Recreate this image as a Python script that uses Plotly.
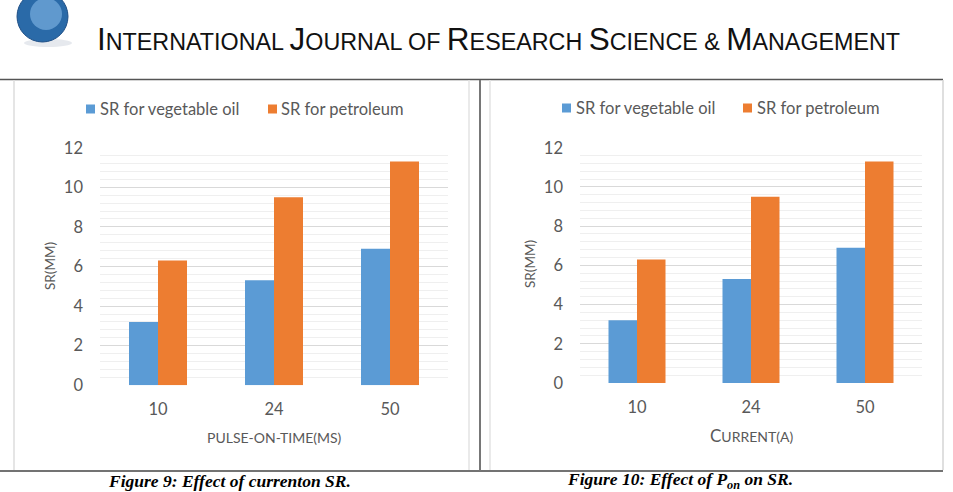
import plotly.graph_objects as go

# ---------------- data ----------------
categories = ["10", "24", "50"]
series_names = ["SR for vegetable oil", "SR for petroleum"]
sr_veg_fig9 = [3.2, 5.3, 6.9]
sr_pet_fig9 = [6.3, 9.5, 11.3]
sr_veg_fig10 = [3.2, 5.3, 6.9]
sr_pet_fig10 = [6.3, 9.5, 11.3]
y_ticks = [0, 2, 4, 6, 8, 10, 12]

W, H = 953, 492
def px(x):
    return x / W
def py(y):
    return 1 - y / H

BLUE = "#5B9BD5"
ORANGE = "#ED7D31"
TXT = "#595959"
GRID = "#d9d9d9"
MINOR = "#efefef"
FONT = "Lato, Open Sans, sans-serif"

fig = go.Figure()
for ax, veg, pet in [("", sr_veg_fig9, sr_pet_fig9), ("2", sr_veg_fig10, sr_pet_fig10)]:
    fig.add_trace(go.Bar(x=categories, y=veg, name=series_names[0], marker_color=BLUE,
                         marker_line_width=0, xaxis="x" + ax, yaxis="y" + ax, showlegend=False))
    fig.add_trace(go.Bar(x=categories, y=pet, name=series_names[1], marker_color=ORANGE,
                         marker_line_width=0, xaxis="x" + ax, yaxis="y" + ax, showlegend=False))

def xaxis_cfg(x0, x1, anchor):
    return dict(domain=[px(x0), px(x1)], anchor=anchor, type="category", showgrid=False,
                showline=False, zeroline=False, ticks="", ticklabelstandoff=12, automargin=False,
                tickfont=dict(family=FONT, size=16.5, color=TXT), fixedrange=True)

def yaxis_cfg(ybot, ytop, anchor):
    return dict(domain=[py(ybot), py(ytop)], anchor=anchor, range=[0, 12.001],
                tickvals=y_ticks, showgrid=True, gridcolor=GRID, gridwidth=1, automargin=False,
                minor=dict(dtick=0.4, tick0=0, showgrid=True, gridcolor=MINOR, gridwidth=1),
                showline=False, zeroline=False, ticks="", ticklabelstandoff=16,
                tickfont=dict(family=FONT, size=16.5, color=TXT), fixedrange=True)

fig.update_layout(
    width=W, height=H,
    margin=dict(l=0, r=0, t=0, b=0, pad=0, autoexpand=False),
    paper_bgcolor="white", plot_bgcolor="white",
    barmode="group", bargap=0.5, bargroupgap=0,
    xaxis=xaxis_cfg(100, 448, "y"),
    yaxis=yaxis_cfg(385.3, 147.7, "x"),
    xaxis2=xaxis_cfg(580, 922, "y2"),
    yaxis2=yaxis_cfg(383, 147.7, "x2"),
    showlegend=False,
)

shapes = []
annotations = []

# page frame lines
shapes += [
    dict(type="line", xref="paper", yref="paper", x0=px(0), x1=px(943), y0=py(79.5), y1=py(79.5),
         line=dict(color="#555555", width=1.5)),
    dict(type="line", xref="paper", yref="paper", x0=px(0), x1=px(943), y0=py(471), y1=py(471),
         line=dict(color="#444444", width=1.5)),
    dict(type="line", xref="paper", yref="paper", x0=px(480), x1=px(480), y0=py(80), y1=py(471),
         line=dict(color="#777777", width=2)),
    dict(type="line", xref="paper", yref="paper", x0=px(14), x1=px(14), y0=py(80), y1=py(470),
         line=dict(color="#dddddd", width=1.5)),
    dict(type="line", xref="paper", yref="paper", x0=px(469), x1=px(469), y0=py(80), y1=py(470),
         line=dict(color="#e3e3e3", width=1.5)),
    dict(type="line", xref="paper", yref="paper", x0=px(490), x1=px(490), y0=py(80), y1=py(470),
         line=dict(color="#e3e3e3", width=1.5)),
    dict(type="line", xref="paper", yref="paper", x0=px(943), x1=px(943), y0=py(80), y1=py(470),
         line=dict(color="#d5d5d5", width=1.5)),
]

# logo approximation (globe)
shapes += [
    dict(type="circle", xref="paper", yref="paper", x0=px(24), x1=px(72), y0=py(47), y1=py(39),
         fillcolor="#e6e9ee", line=dict(width=0)),
    dict(type="circle", xref="paper", yref="paper", x0=px(17), x1=px(68), y0=py(42), y1=py(-9),
         fillcolor="#2a6aa8", line=dict(color="#1f4f86", width=1)),
    dict(type="circle", xref="paper", yref="paper", x0=px(30), x1=px(62), y0=py(30), y1=py(-2),
         fillcolor="#8cc0ec", line=dict(width=0), opacity=0.55),
]

# header title (small caps)
def sc(big, rest):
    return f"<span style='font-size:31.5px'>{big}</span>{rest}"
header = (sc("I", "NTERNATIONAL") + " " + sc("J", "OURNAL") + " OF " + sc("R", "ESEARCH") + " "
          + sc("S", "CIENCE") + " &amp; " + sc("M", "ANAGEMENT"))
annotations.append(dict(text=header, xref="paper", yref="paper", x=px(95), y=py(39),
                        xanchor="left", yanchor="middle", showarrow=False,
                        font=dict(family="Liberation Sans, sans-serif", size=23.3, color="#111111")))

# legends (manual)
def legend(xb, xt, xo, xot, yc):
    out_s = [
        dict(type="rect", xref="paper", yref="paper", x0=px(xb), x1=px(xb + 9), y0=py(yc + 4.5),
             y1=py(yc - 4.5), fillcolor=BLUE, line=dict(width=0)),
        dict(type="rect", xref="paper", yref="paper", x0=px(xo), x1=px(xo + 9), y0=py(yc + 4.5),
             y1=py(yc - 4.5), fillcolor=ORANGE, line=dict(width=0)),
    ]
    out_a = [
        dict(text=series_names[0], xref="paper", yref="paper", x=px(xt), y=py(yc), xanchor="left",
             yanchor="middle", showarrow=False, font=dict(family=FONT, size=16.5, color=TXT)),
        dict(text=series_names[1], xref="paper", yref="paper", x=px(xot), y=py(yc), xanchor="left",
             yanchor="middle", showarrow=False, font=dict(family=FONT, size=16.5, color=TXT)),
    ]
    return out_s, out_a

s, a = legend(86, 98, 268, 279, 109)
shapes += s; annotations += a
s, a = legend(562, 574, 743, 755, 108)
shapes += s; annotations += a

# axis titles
annotations += [
    dict(text="SR(MM)", xref="paper", yref="paper", x=px(50), y=py(266), textangle=-90,
         xanchor="center", yanchor="middle", showarrow=False,
         font=dict(family=FONT, size=13.5, color=TXT)),
    dict(text="SR(MM)", xref="paper", yref="paper", x=px(530), y=py(264), textangle=-90,
         xanchor="center", yanchor="middle", showarrow=False,
         font=dict(family=FONT, size=13.5, color=TXT)),
    dict(text="PULSE-ON-TIME(MS)", xref="paper", yref="paper", x=px(274), y=py(437),
         xanchor="center", yanchor="middle", showarrow=False,
         font=dict(family=FONT, size=14, color=TXT)),
    dict(text="<span style='font-size:17px'>C</span>URRENT(A)", xref="paper", yref="paper",
         x=px(751), y=py(435), xanchor="center", yanchor="middle", showarrow=False,
         font=dict(family=FONT, size=14, color=TXT)),
]

# captions
annotations += [
    dict(text="<b><i>Figure 9: Effect of currenton SR.</i></b>", xref="paper", yref="paper",
         x=px(229), y=py(480.5), xanchor="center", yanchor="middle", showarrow=False,
         font=dict(family="Liberation Serif, serif", size=17.5, color="#000000")),
    dict(text="<b><i>Figure 10: Effect of P<sub>on</sub> on SR.</i></b>", xref="paper", yref="paper",
         x=px(680), y=py(480), xanchor="center", yanchor="middle", showarrow=False,
         font=dict(family="Liberation Serif, serif", size=17.5, color="#000000")),
]

fig.update_layout(shapes=shapes, annotations=annotations)
fig.write_html("out.html")
